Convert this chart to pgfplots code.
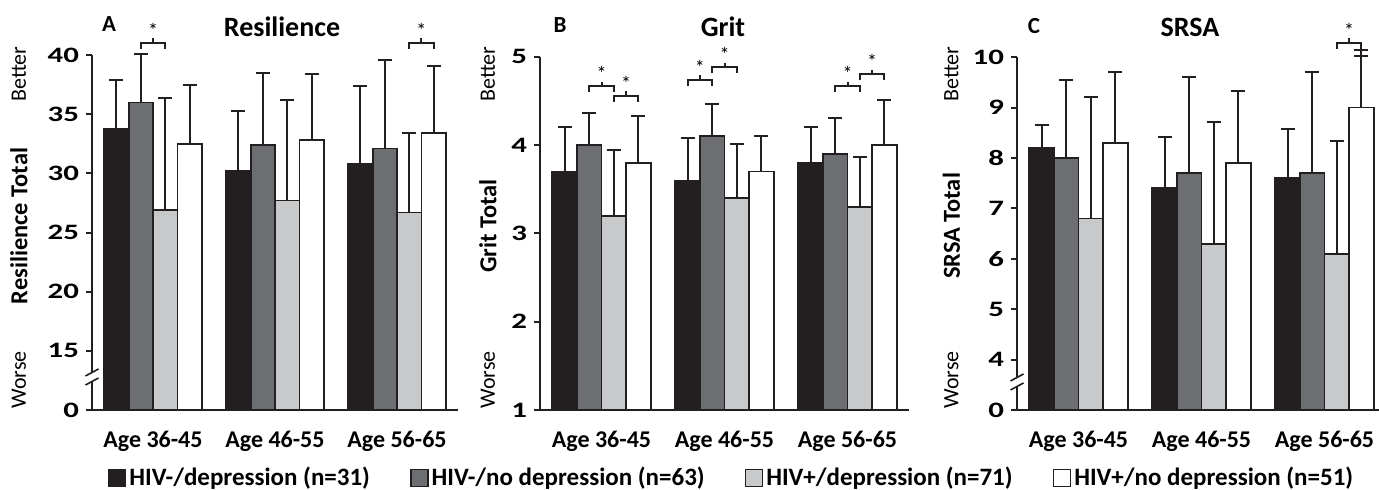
\documentclass[border=0pt]{standalone}
\usepackage{pgfplots}
\pgfplotsset{compat=1.18}
\usepackage{fontspec}
\setmainfont{Carlito}
\definecolor{cline}{HTML}{231F20}
\definecolor{cdark}{HTML}{6D6E71}
\definecolor{clight}{HTML}{C8C9CB}

% wide bold tick digits as in the figure
\newcommand{\wide}[1]{\scalebox{1.4}[1]{#1}}
% significance bracket: x1, x2, xmid, y
\newcommand{\sig}[4]{%
  \draw[line width=1pt,cline] ([yshift=-3pt]axis cs:#1,#4) -- (axis cs:#1,#4) -- (axis cs:#2,#4) -- ([yshift=-3pt]axis cs:#2,#4);
  \draw[line width=1pt,cline] (axis cs:#3,#4) -- ([yshift=2.2pt]axis cs:#3,#4);
  \node[font=\fontsize{10}{10}\selectfont,inner sep=0pt] at ([yshift=6.3pt]axis cs:#3,#4) {*};
}
% axis break marks at y
\newcommand{\brk}[1]{%
  \draw[line width=0.8pt,cline] ([shift={(-3.25pt,-4pt)}]axis cs:-0.5,#1) -- ([shift={(3.25pt,-0.5pt)}]axis cs:-0.5,#1);
  \draw[line width=0.8pt,cline] ([shift={(-3.25pt,0.5pt)}]axis cs:-0.5,#1) -- ([shift={(3.25pt,4pt)}]axis cs:-0.5,#1);
}

\pgfplotsset{
  panel/.style={
    ybar, bar width=0.2,
    xmin=-0.5, xmax=2.5, enlargelimits=false,
    axis x line*=bottom, axis y line*=left,
    axis line style={draw=none},
    clip mode=individual,
    xtick={0,1,2}, xticklabels={Age 36-45,Age 46-55,Age 56-65},
    x tick style={draw=none},
    xticklabel style={font=\bfseries\fontsize{12}{14}\selectfont, yshift=-4pt},
    y tick style={line width=1pt, draw=cline},
    tick align=outside, major tick length=3pt,
    yticklabel style={font=\bfseries\fontsize{11}{13}\selectfont},
    error bars/y dir=plus, error bars/y explicit,
    error bars/error bar style={line width=1pt, draw=cline},
    error bars/error mark options={rotate=90, line width=1pt, draw=cline, mark size=3.5pt},
    legend image code/.code={\draw[line width=0.8pt,draw=cline,#1] (0pt,-4.25pt) rectangle (8.5pt,4.25pt);},
  },
  g1/.style={fill=cline, draw=cline, line width=0.9pt, bar shift=-0.3},
  g2/.style={fill=cdark, draw=cline, line width=0.9pt, bar shift=-0.1},
  g3/.style={fill=clight, draw=cline, line width=0.9pt, bar shift=0.1},
  g4/.style={fill=white, draw=cline, line width=0.9pt, bar shift=0.3},
}

\begin{document}
\begin{tikzpicture}
\path[use as bounding box] (0,0) rectangle (689.5pt,245pt);

% ---- A: Resilience
\begin{axis}[panel, at={(46pt,40pt)}, anchor=south west,
  x=61pt, y=5.915pt, ymin=10, ymax=40.5,
  ytick={10,15,20,25,30,35,40},
  yticklabels={\wide{0},\wide{15},\wide{20},\wide{25},\wide{30},\wide{35},\wide{40}},
  legend columns=4,
  legend style={at={(1.7486,-0.1885)}, anchor=center, draw=none, fill=none,
    font=\bfseries\fontsize{12.5}{14}\selectfont, inner sep=0pt,
    nodes={inner xsep=1.5pt},
    /tikz/every even column/.append style={column sep=18.5pt}},
]
\addplot[g1] coordinates {(0,33.8) +- (0,4.1) (1,30.2) +- (0,5.1) (2,30.8) +- (0,6.6)};
\addlegendentry{HIV-/depression (n=31)}
\addplot[g2] coordinates {(0,36.0) +- (0,4.1) (1,32.4) +- (0,6.1) (2,32.1) +- (0,7.5)};
\addlegendentry{HIV-/no depression (n=63)}
\addplot[g3] coordinates {(0,26.9) +- (0,9.5) (1,27.7) +- (0,8.5) (2,26.7) +- (0,6.7)};
\addlegendentry{HIV+/depression (n=71)}
\addplot[g4] coordinates {(0,32.5) +- (0,5.0) (1,32.8) +- (0,5.6) (2,33.4) +- (0,5.7)};
\addlegendentry{HIV+/no depression (n=51)}
\draw[line width=1pt,cline] (axis cs:-0.5,10) -- ([yshift=-2pt]axis cs:-0.5,12.79);
\draw[line width=1pt,cline] ([yshift=2pt]axis cs:-0.5,12.79) -- (axis cs:-0.5,40);
\draw[line width=1pt,cline] ([xshift=-3pt]axis cs:-0.5,10) -- (axis cs:2.5,10);
\brk{12.79}
\sig{-0.1}{0.1}{0}{41.04}
\sig{2.1}{2.3}{2.2}{41.04}
\end{axis}

% ---- B: Grit
\begin{axis}[panel, at={(270pt,40pt)}, anchor=south west,
  x=61.5pt, y=44.15pt, ymin=1, ymax=5,
  ytick={1,2,3,4,5},
  yticklabels={\wide{1},\wide{2},\wide{3},\wide{4},\wide{5}},
]
\addplot[g1] coordinates {(0,3.7) +- (0,0.50) (1,3.6) +- (0,0.48) (2,3.8) +- (0,0.40)};
\addplot[g2] coordinates {(0,4.0) +- (0,0.36) (1,4.1) +- (0,0.37) (2,3.9) +- (0,0.41)};
\addplot[g3] coordinates {(0,3.2) +- (0,0.74) (1,3.4) +- (0,0.61) (2,3.3) +- (0,0.57)};
\addplot[g4] coordinates {(0,3.8) +- (0,0.53) (1,3.7) +- (0,0.40) (2,4.0) +- (0,0.51)};
\draw[line width=1pt,cline] (axis cs:-0.5,1) -- (axis cs:-0.5,5);
\draw[line width=1pt,cline] ([xshift=-3pt]axis cs:-0.5,1) -- (axis cs:2.5,1);
\sig{-0.1}{0.1}{0}{4.67}
\sig{0.1}{0.3}{0.2}{4.56}
\sig{0.7}{0.9}{0.8}{4.74}
\sig{0.9}{1.1}{1}{4.88}
\sig{1.9}{2.1}{2}{4.67}
\sig{2.1}{2.3}{2.2}{4.8}
\end{axis}

% ---- C: SRSA
\begin{axis}[panel, at={(508.5pt,40pt)}, anchor=south west,
  x=61.5pt, y=25.2pt, ymin=3, ymax=10.4,
  ytick={3,4,5,6,7,8,9,10},
  yticklabels={\wide{0},\wide{4},\wide{5},\wide{6},\wide{7},\wide{8},\wide{9},\wide{10}},
]
\addplot[g1] coordinates {(0,8.2) +- (0,0.45) (1,7.4) +- (0,1.02) (2,7.6) +- (0,0.98)};
\addplot[g2] coordinates {(0,8.0) +- (0,1.55) (1,7.7) +- (0,1.91) (2,7.7) +- (0,2.00)};
\addplot[g3] coordinates {(0,6.8) +- (0,2.42) (1,6.3) +- (0,2.41) (2,6.1) +- (0,2.24)};
\addplot[g4] coordinates {(0,8.3) +- (0,1.40) (1,7.9) +- (0,1.43) (2,9.0) +- (0,1.15)};
\addplot[g4, forget plot] coordinates {(2,9.0) +- (0,1.02)};
\draw[line width=1pt,cline] (axis cs:-0.5,3) -- ([yshift=-2pt]axis cs:-0.5,3.556);
\draw[line width=1pt,cline] ([yshift=2pt]axis cs:-0.5,3.556) -- (axis cs:-0.5,10);
\draw[line width=1pt,cline] ([xshift=-3pt]axis cs:-0.5,3) -- (axis cs:2.5,3);
\brk{3.556}
\sig{2.1}{2.3}{2.2}{10.29}
\end{axis}

% panel letters, titles and side labels
\node[font=\bfseries\fontsize{11.5}{13}\selectfont] at (54.5pt,233pt) {A};
\node[font=\bfseries\fontsize{14}{16}\selectfont] at (141pt,231.5pt) {Resilience};
\node[font=\bfseries\fontsize{11.5}{13}\selectfont] at (280pt,232.5pt) {B};
\node[font=\bfseries\fontsize{14}{16}\selectfont] at (361.5pt,231.5pt) {Grit};
\node[font=\bfseries\fontsize{11.5}{13}\selectfont] at (517pt,232pt) {C};
\node[font=\bfseries\fontsize{14}{16}\selectfont] at (595pt,231.5pt) {SRSA};

\foreach \lx/\lab in {9.5pt/Resilience Total, 244pt/Grit Total, 475.75pt/SRSA Total}{
  \node[rotate=90,font=\bfseries\fontsize{12.2}{14}\selectfont] at (\lx,132pt) {\lab};
  \node[rotate=90,font=\fontsize{11}{13}\selectfont] at (\lx,208pt) {Better};
  \node[rotate=90,font=\fontsize{11}{13}\selectfont] at (\lx,55pt) {Worse};
}
\end{tikzpicture}
\end{document}
